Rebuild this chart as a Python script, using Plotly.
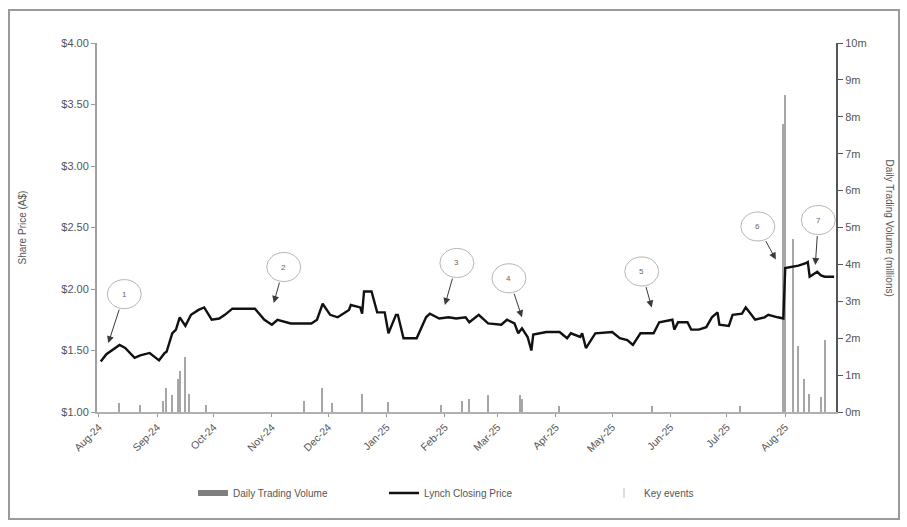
import math
import plotly.graph_objects as go

# Lynch closing share price (A$)
price_dates = [
    "2024-08-02", "2024-08-05", "2024-08-12", "2024-08-15", "2024-08-20", "2024-08-23", "2024-08-28",
    "2024-09-02", "2024-09-05", "2024-09-06", "2024-09-09", "2024-09-11", "2024-09-13", "2024-09-16",
    "2024-09-19", "2024-09-23", "2024-09-26", "2024-09-30", "2024-10-04", "2024-10-07", "2024-10-11",
    "2024-10-23", "2024-10-28", "2024-11-01", "2024-11-04", "2024-11-11", "2024-11-22", "2024-11-25",
    "2024-11-28", "2024-12-02", "2024-12-06", "2024-12-12", "2024-12-13", "2024-12-18", "2024-12-19",
    "2024-12-20", "2024-12-24", "2024-12-27", "2024-12-31", "2025-01-02", "2025-01-06", "2025-01-07",
    "2025-01-10", "2025-01-17", "2025-01-22", "2025-01-24", "2025-01-29", "2025-02-03", "2025-02-07",
    "2025-02-12", "2025-02-14", "2025-02-19", "2025-02-24", "2025-03-03", "2025-03-06", "2025-03-10",
    "2025-03-12", "2025-03-14", "2025-03-17", "2025-03-19", "2025-03-20", "2025-03-27", "2025-04-03",
    "2025-04-07", "2025-04-09", "2025-04-14", "2025-04-15", "2025-04-17", "2025-04-22", "2025-05-01",
    "2025-05-05", "2025-05-09", "2025-05-12", "2025-05-16", "2025-05-23", "2025-05-26", "2025-06-02",
    "2025-06-03", "2025-06-05", "2025-06-10", "2025-06-12", "2025-06-16", "2025-06-20", "2025-06-23",
    "2025-06-26", "2025-06-27", "2025-07-02", "2025-07-04", "2025-07-09", "2025-07-11", "2025-07-14",
    "2025-07-16", "2025-07-21", "2025-07-23", "2025-07-28", "2025-07-31", "2025-08-01", "2025-08-05",
    "2025-08-08", "2025-08-12", "2025-08-13", "2025-08-14", "2025-08-18", "2025-08-20", "2025-08-22",
    "2025-08-27",
]
price_values = [
    1.41, 1.47, 1.545, 1.52, 1.44, 1.46, 1.48,
    1.42, 1.48, 1.49, 1.64, 1.67, 1.77, 1.70,
    1.79, 1.83, 1.85, 1.75, 1.76, 1.79, 1.84,
    1.84, 1.75, 1.71, 1.75, 1.72, 1.72, 1.75,
    1.88, 1.79, 1.77, 1.83, 1.87, 1.85, 1.80,
    1.98, 1.98, 1.81, 1.81, 1.64, 1.79, 1.79,
    1.60, 1.60, 1.77, 1.80, 1.76, 1.77, 1.76,
    1.77, 1.73, 1.79, 1.72, 1.71, 1.75, 1.72,
    1.64, 1.68, 1.61, 1.50, 1.63, 1.65, 1.65,
    1.60, 1.64, 1.61, 1.64, 1.52, 1.64, 1.65,
    1.60, 1.585, 1.545, 1.64, 1.64, 1.73, 1.75,
    1.67, 1.73, 1.73, 1.67, 1.67, 1.69, 1.77,
    1.81, 1.71, 1.70, 1.79, 1.80, 1.85, 1.79,
    1.75, 1.77, 1.79, 1.77, 1.76, 2.17, 2.18,
    2.19, 2.21, 2.22, 2.10, 2.14, 2.11, 2.10,
    2.10,
]

# Daily trading volume (millions of shares)
volume_dates = [
    "2024-08-12", "2024-08-23", "2024-09-04", "2024-09-06", "2024-09-09", "2024-09-12", "2024-09-13",
    "2024-09-16", "2024-09-18", "2024-09-27", "2024-11-18", "2024-11-28", "2024-12-03", "2024-12-19",
    "2025-01-02", "2025-01-30", "2025-02-10", "2025-02-14", "2025-02-24", "2025-03-13", "2025-03-14",
    "2025-04-03", "2025-05-22", "2025-07-08", "2025-07-31", "2025-08-01", "2025-08-05", "2025-08-08",
    "2025-08-11", "2025-08-14", "2025-08-20", "2025-08-22",
]
volume_values = [
    0.25, 0.20, 0.30, 0.65, 0.45, 0.90, 1.10,
    1.50, 0.50, 0.20, 0.30, 0.65, 0.25, 0.50,
    0.27, 0.20, 0.30, 0.35, 0.45, 0.45, 0.35,
    0.15, 0.15, 0.15, 7.80, 8.60, 4.70, 1.80,
    0.90, 0.50, 0.40, 1.95,
]

# Key events: number, date and price the arrow points at
event_labels = ["1", "2", "3", "4", "5", "6", "7"]
event_dates = ["2024-08-06", "2024-11-02", "2025-02-01", "2025-03-14", "2025-05-22", "2025-07-27", "2025-08-17"]
event_prices = [1.56, 1.886, 1.87, 1.77, 1.85, 2.24, 2.195]

month_ticks = [
    "2024-08-01", "2024-09-01", "2024-10-01", "2024-11-01", "2024-12-01", "2025-01-01", "2025-02-01",
    "2025-03-01", "2025-04-01", "2025-05-01", "2025-06-01", "2025-07-01", "2025-08-01",
]

# callout bubble offsets from the arrow tip, in pixels (x right, y down)
bubble_offsets = [(16, -49), (10, -36), (12, -42), (-13, -39), (-10, -36), (-18, -33), (3, -45)]
RX, RY = 17, 14.5

FONT = "Liberation Sans, Arial, sans-serif"
TXT = "#555555"

W, H = 907, 527
L, R, T, B = 97, 71, 43, 115
pw, ph = W - L - R, H - T - B
px = lambda x: (x - L) / pw
py = lambda y: (H - B - y) / ph

fig = go.Figure()

fig.add_trace(go.Bar(
    x=volume_dates, y=volume_values, name="Daily Trading Volume",
    marker=dict(color="#a6a6a6", line=dict(width=0)),
    width=86400000 * 0.75, yaxis="y", xaxis="x", showlegend=False,
))
fig.add_trace(go.Scatter(
    x=price_dates, y=price_values, name="Lynch Closing Price", mode="lines",
    line=dict(color="#111111", width=2.4), yaxis="y2", xaxis="x", legend="legend2",
))
# legend swatches
fig.add_trace(go.Scatter(
    x=[None], y=[None], name="Daily Trading Volume", mode="lines",
    line=dict(color="#7f7f7f", width=6), yaxis="y2", legend="legend",
))
fig.add_trace(go.Scatter(
    x=[None], y=[None], name="Key events", mode="markers",
    marker=dict(symbol="line-ns-open", size=7, color="#bdbdbd", line=dict(width=1, color="#bdbdbd")),
    yaxis="y2", legend="legend3",
))

shapes = []
annotations = []
for lab, d, p, (dx, dy) in zip(event_labels, event_dates, event_prices, bubble_offsets):
    shapes.append(dict(
        type="circle", xref="x", yref="y2", xsizemode="pixel", ysizemode="pixel",
        xanchor=d, yanchor=p, x0=dx - RX, x1=dx + RX, y0=-dy - RY, y1=-dy + RY,
        line=dict(color="#b5b5b5", width=1), fillcolor="rgba(255,255,255,0)",
    ))
    annotations.append(dict(
        x=d, y=p, xref="x", yref="y2", text=lab, showarrow=False,
        xshift=dx, yshift=-dy, font=dict(size=8, color="#666666", family=FONT),
    ))
    # tail of the arrow sits on the bubble outline
    t = 1.0 / math.sqrt((dx / RX) ** 2 + (dy / RY) ** 2)
    tx, ty = dx * (1 - t), dy * (1 - t)
    annotations.append(dict(
        x=d, y=p, xref="x", yref="y2", text="", showarrow=True,
        ax=tx, ay=ty, arrowhead=2, arrowsize=1.4, arrowwidth=1, arrowcolor="#3a3a3a",
    ))

# axis titles
annotations.append(dict(
    x=px(22), y=0.5, xref="paper", yref="paper", xanchor="center", yanchor="middle",
    text="Share Price (A$)", textangle=-90,
    showarrow=False, font=dict(size=10, color=TXT, family=FONT),
))
annotations.append(dict(
    x=px(889), y=0.5, xref="paper", yref="paper", xanchor="center", yanchor="middle",
    text="Daily Trading Volume (millions)", textangle=90,
    showarrow=False, font=dict(size=10, color=TXT, family=FONT),
))

# frame around the whole chart
shapes.append(dict(
    type="rect", xref="paper", yref="paper", x0=px(9), x1=px(899), y0=py(519), y1=py(10),
    line=dict(color="#9a9a9a", width=2), layer="below",
))

legend_common = dict(
    orientation="h", yanchor="middle", y=py(493), xanchor="left",
    font=dict(size=10, color=TXT, family=FONT), bgcolor="rgba(0,0,0,0)", itemwidth=30,
)

fig.update_layout(
    width=W, height=H, margin=dict(l=L, r=R, t=T, b=B),
    paper_bgcolor="white", plot_bgcolor="white",
    font=dict(family=FONT, size=10, color=TXT),
    bargap=0,
    showlegend=True,
    legend=dict(x=px(193), **legend_common),
    legend2=dict(x=px(384), **legend_common),
    legend3=dict(x=px(604), **legend_common),
    xaxis=dict(
        type="date", range=["2024-07-31", "2025-08-28"],
        tickvals=month_ticks, tickformat="%b-%y", tickangle=-45,
        ticks="outside", ticklen=3, tickcolor="#999999",
        showline=True, linecolor="#b0b0b0", linewidth=2, showgrid=False, zeroline=False,
        tickfont=dict(size=10.5, color=TXT),
    ),
    yaxis=dict(
        range=[0, 10], dtick=1, ticksuffix="m", side="right",
        ticks="outside", ticklen=5, tickcolor="#555555",
        showline=True, linecolor="#555555", linewidth=2, showgrid=False, zeroline=False,
        tickfont=dict(size=11, color=TXT),
    ),
    yaxis2=dict(
        range=[1, 4], dtick=0.5, tickprefix="$", tickformat=".2f", side="left",
        overlaying="y", anchor="x",
        ticks="outside", ticklen=4, tickcolor="#999999",
        showline=True, linecolor="#a0a0a0", linewidth=2, showgrid=False, zeroline=False,
        tickfont=dict(size=11, color=TXT),
    ),
    shapes=shapes,
    annotations=annotations,
)

fig.write_html("out.html")
